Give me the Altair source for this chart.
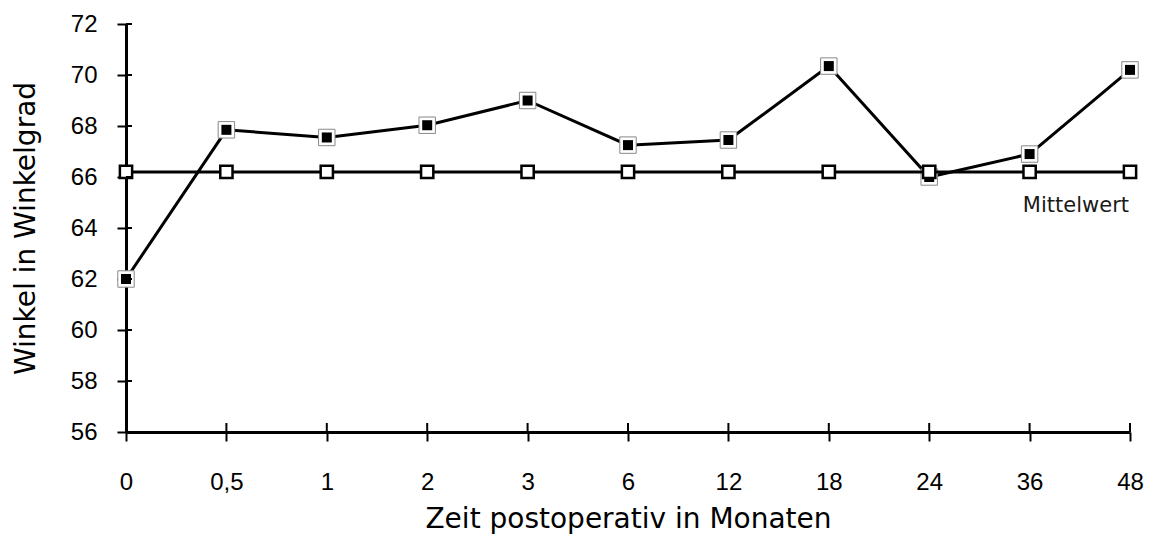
import altair as alt
import pandas as pd

months = ["0", "0,5", "1", "2", "3", "6", "12", "18", "24", "36", "48"]
angle = [62.0, 67.85, 67.55, 68.03, 69.0, 67.25, 67.45, 70.35, 66.0, 66.9, 70.2]
mean_value = [66.2] * len(months)
y_ticks = [56, 58, 60, 62, 64, 66, 68, 70, 72]

df = pd.DataFrame({"month": months, "angle": angle, "mean": mean_value})
tick_df = pd.DataFrame({"t": y_ticks})
xt_df = pd.DataFrame({"month": months})
lab_df = pd.DataFrame({"month": [months[-1]], "mean": [mean_value[-1]], "label": ["Mittelwert"]})

W, H = 1004, 408
xs = alt.Scale(type="point", domain=months, padding=0)
ys = alt.Scale(domain=[56, 72], nice=False, zero=False)

X = alt.X("month:N", scale=xs, sort=months,
          axis=alt.Axis(title="Zeit postoperativ in Monaten", labelAngle=0,
                        labelFont="Liberation Sans", labelFontSize=24, labelColor="black",
                        labelPadding=29, tickSize=9, tickWidth=2, tickColor="black",
                        domainWidth=3, domainColor="black",
                        titleFont="DejaVu Sans", titleFontWeight="normal", titleFontSize=28,
                        titleColor="black", titlePadding=11, grid=False))
Y = alt.Y("angle:Q", scale=ys,
          axis=alt.Axis(title="Winkel in Winkelgrad", values=y_ticks,
                        labelFont="Liberation Sans", labelFontSize=24, labelColor="black",
                        labelPadding=20, tickSize=9, tickWidth=2, tickColor="black",
                        domainWidth=3, domainColor="black",
                        titleFont="DejaVu Sans", titleFontWeight="normal", titleFontSize=28,
                        titleColor="black", titlePadding=30, grid=False))

base = alt.Chart(df)

data_line = base.mark_line(color="black", strokeWidth=3).encode(x=X, y=Y)
data_outer = base.mark_point(shape="square", filled=True, fill="white", stroke="#888888",
                             strokeWidth=1, size=270, opacity=1).encode(x="month:N", y="angle:Q")
data_inner = base.mark_point(shape="square", filled=True, color="black", size=100,
                             opacity=1).encode(x="month:N", y="angle:Q")
mean_line = base.mark_line(color="black", strokeWidth=3).encode(x="month:N", y="mean:Q")
mean_pts = base.mark_point(shape="square", filled=True, fill="white", stroke="black",
                           strokeWidth=2.5, size=150, opacity=1).encode(x="month:N", y="mean:Q")

y_inner = alt.Chart(tick_df).mark_rule(color="black", strokeWidth=2).encode(
    y=alt.Y("t:Q", scale=ys), x=alt.value(0), x2=alt.value(6))
x_inner = alt.Chart(xt_df).mark_rule(color="black", strokeWidth=2).encode(
    x=alt.X("month:N", scale=xs), y=alt.value(H), y2=alt.value(H - 9))

label = alt.Chart(lab_df).mark_text(align="right", baseline="middle", fontSize=21,
                                    font="DejaVu Sans", color="#1a1a1a", dy=34, dx=-1).encode(
    x="month:N", y="mean:Q", text="label:N")

chart = alt.layer(data_line, data_outer, data_inner, mean_line, mean_pts,
                  y_inner, x_inner, label).properties(
    width=W, height=H,
    autosize=alt.AutoSizeParams(type="none"),
    padding={"left": 118, "top": 16, "right": 15, "bottom": 103},
    background="white",
).configure_view(stroke=None, strokeWidth=0)

chart.save("out.html", embed_options={"renderer": "svg", "actions": False})
